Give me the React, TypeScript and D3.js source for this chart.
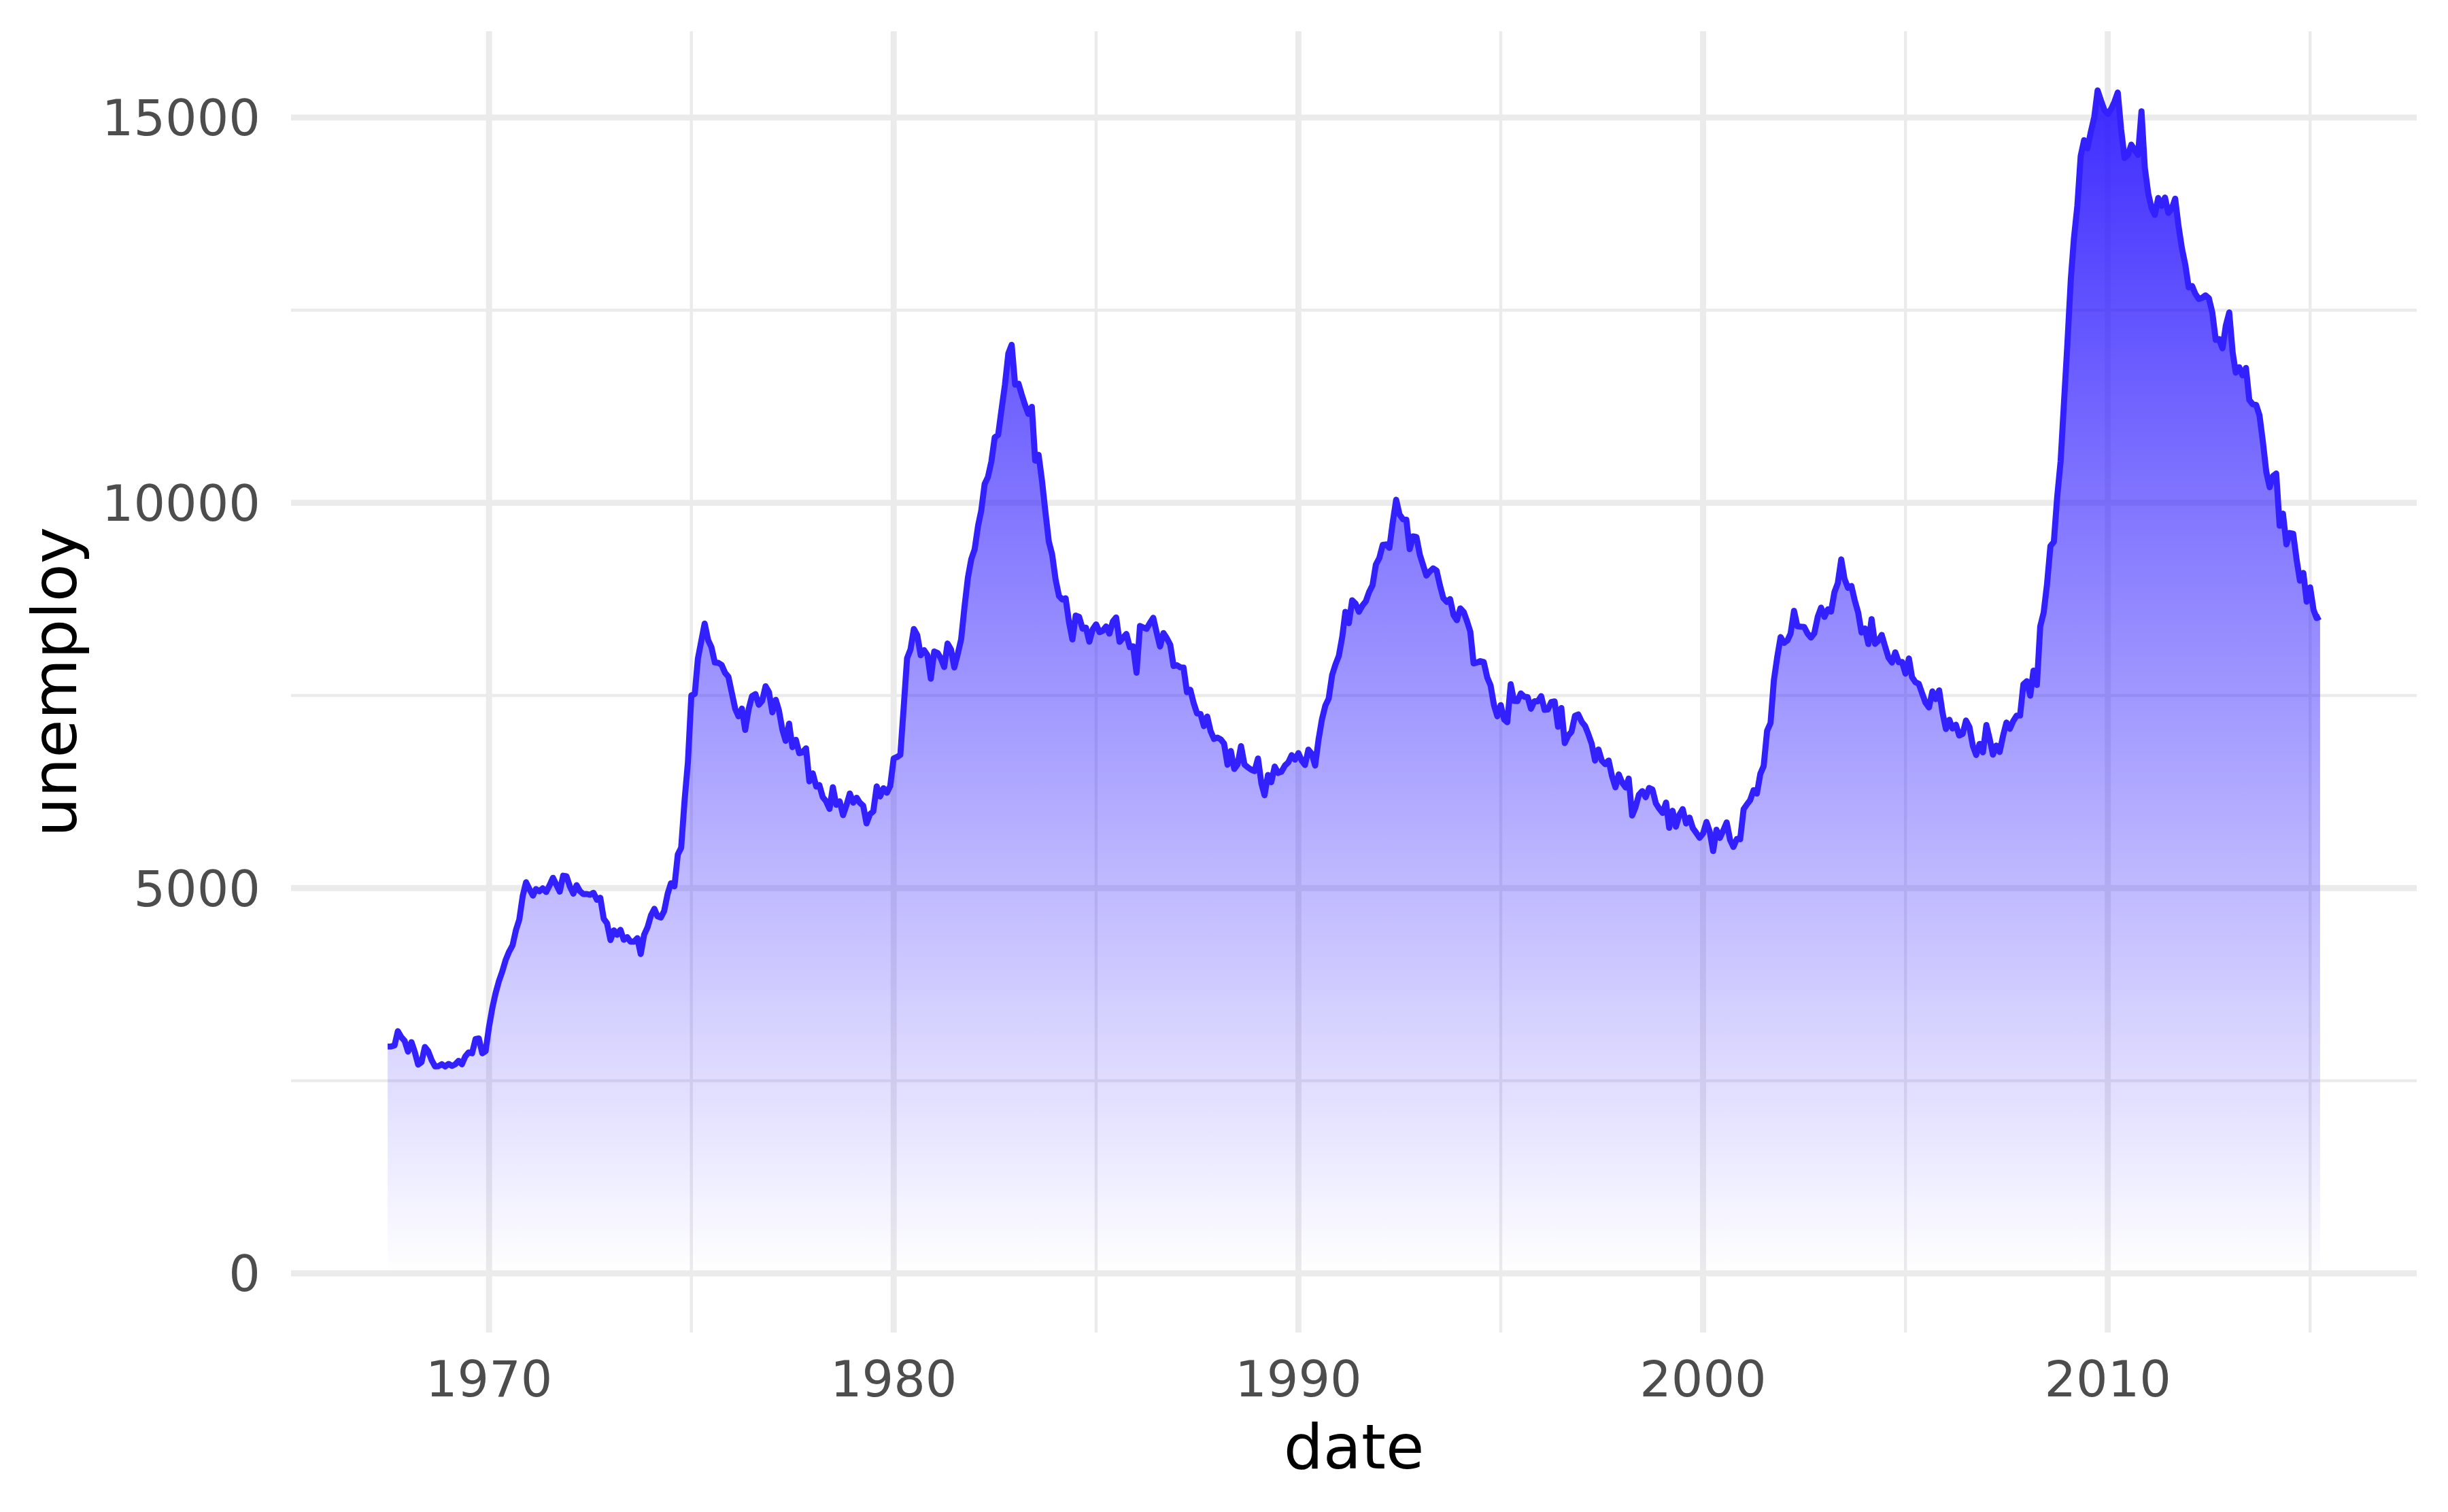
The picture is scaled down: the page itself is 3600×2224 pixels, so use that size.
import React from "react";
import * as d3 from "d3";

// ggplot2 economics: monthly unemployment (thousands), from 1967-07 to 2015-04
const startYear = 1967;
const startMonth = 6; // July (0-based)
const unemploy: number[] = [
  2944, 2945, 2958, 3143, 3066, 3018,
  2878, 3001, 2877, 2709, 2740, 2938, 2883, 2768, 2686, 2689, 2715, 2685,
  2718, 2692, 2712, 2758, 2713, 2816, 2868, 2856, 3040, 3049, 2856, 2884,
  3201, 3453, 3635, 3797, 3919, 4071, 4175, 4256, 4456, 4591, 4898, 5076,
  4986, 4903, 4987, 4959, 4996, 4949, 5035, 5134, 5042, 4954, 5161, 5154,
  5019, 4928, 5038, 4959, 4922, 4923, 4913, 4939, 4849, 4875, 4602, 4543,
  4326, 4452, 4394, 4459, 4329, 4363, 4305, 4305, 4350, 4144, 4396, 4489,
  4644, 4731, 4634, 4618, 4705, 4927, 5063, 5022, 5437, 5523, 6140, 6636,
  7501, 7520, 7978, 8210, 8433, 8220, 8127, 7928, 7923, 7897, 7794, 7744,
  7534, 7326, 7230, 7330, 7053, 7322, 7490, 7518, 7380, 7430, 7620, 7545,
  7280, 7443, 7307, 7059, 6911, 7134, 6829, 6925, 6751, 6763, 6815, 6386,
  6489, 6318, 6337, 6180, 6127, 6028, 6309, 6080, 6125, 5947, 6077, 6228,
  6109, 6173, 6109, 6069, 5840, 5959, 5996, 6320, 6190, 6296, 6238, 6325,
  6683, 6702, 6729, 7358, 7984, 8098, 8363, 8281, 8021, 8088, 8023, 7718,
  8071, 8051, 7982, 7869, 8174, 8098, 7863, 8036, 8230, 8646, 9029, 9267,
  9397, 9705, 9895, 10244, 10335, 10538, 10849, 10881, 11217, 11529, 11938, 12051,
  11534, 11545, 11408, 11268, 11154, 11246, 10548, 10623, 10282, 9887, 9499, 9331,
  9008, 8791, 8746, 8762, 8456, 8226, 8537, 8519, 8367, 8381, 8198, 8358,
  8423, 8321, 8339, 8395, 8302, 8460, 8513, 8196, 8248, 8298, 8128, 8138,
  7795, 8402, 8383, 8364, 8439, 8508, 8319, 8135, 8310, 8243, 8159, 7883,
  7892, 7865, 7862, 7542, 7574, 7398, 7268, 7261, 7102, 7227, 7035, 6936,
  6953, 6929, 6876, 6601, 6779, 6546, 6605, 6843, 6604, 6568, 6537, 6518,
  6682, 6359, 6205, 6468, 6375, 6577, 6495, 6511, 6590, 6630, 6725, 6667,
  6752, 6651, 6598, 6797, 6742, 6590, 6922, 7188, 7368, 7459, 7764, 7901,
  8015, 8265, 8586, 8439, 8736, 8692, 8586, 8666, 8722, 8842, 8931, 9198,
  9283, 9454, 9460, 9415, 9744, 10040, 9850, 9787, 9781, 9398, 9565, 9557,
  9325, 9183, 9056, 9110, 9149, 9121, 8930, 8763, 8714, 8750, 8542, 8477,
  8630, 8583, 8470, 8331, 7915, 7927, 7946, 7933, 7734, 7632, 7375, 7230,
  7375, 7187, 7153, 7645, 7430, 7427, 7527, 7484, 7478, 7328, 7426, 7423,
  7491, 7313, 7318, 7415, 7423, 7095, 7337, 6882, 6979, 7031, 7236, 7253,
  7158, 7102, 7000, 6873, 6655, 6799, 6655, 6608, 6656, 6454, 6308, 6476,
  6368, 6306, 6422, 5941, 6047, 6212, 6259, 6179, 6300, 6280, 6100, 6032,
  5976, 6111, 5783, 6004, 5796, 5951, 6025, 5838, 5915, 5778, 5716, 5653,
  5708, 5858, 5733, 5481, 5758, 5651, 5747, 5853, 5625, 5534, 5639, 5634,
  6023, 6089, 6141, 6271, 6226, 6484, 6583, 7042, 7142, 7694, 8003, 8258,
  8182, 8215, 8304, 8599, 8399, 8393, 8390, 8304, 8251, 8307, 8520, 8640,
  8520, 8618, 8588, 8842, 8957, 9266, 9011, 8896, 8921, 8732, 8576, 8317,
  8370, 8167, 8491, 8170, 8212, 8286, 8136, 7990, 7927, 8061, 7932, 7934,
  7784, 7980, 7737, 7672, 7651, 7524, 7406, 7345, 7553, 7453, 7566, 7279,
  7064, 7184, 7072, 7120, 6980, 7001, 7175, 7091, 6847, 6727, 6872, 6762,
  7116, 6927, 6731, 6850, 6766, 6979, 7149, 7067, 7170, 7237, 7240, 7645,
  7685, 7497, 7822, 7637, 8395, 8575, 8937, 9438, 9494, 10074, 10538, 11286,
  12058, 12898, 13426, 13853, 14499, 14707, 14601, 14814, 15009, 15352, 15219, 15098,
  15046, 15113, 15202, 15325, 14849, 14474, 14512, 14648, 14579, 14516, 15081, 14348,
  14013, 13820, 13737, 13957, 13855, 13962, 13763, 13818, 13948, 13594, 13302, 13093,
  12797, 12813, 12713, 12646, 12660, 12692, 12656, 12471, 12115, 12124, 12005, 12298,
  12471, 11950, 11689, 11760, 11654, 11751, 11335, 11279, 11270, 11136, 10787, 10404,
  10202, 10349, 10380, 9702, 9859, 9460, 9608, 9599, 9262, 8990, 9090, 8717,
  8903, 8610, 8504, 8526,
];

const yMajorTicks = [0, 5000, 10000, 15000];
const yMinorTicks = [2500, 7500, 12500];
const xMajorYears = [1970, 1980, 1990, 2000, 2010];
const xMinorYears = [1965, 1975, 1985, 1995, 2005, 2015];

const W = 3600;
const H = 2224;
const panel = { left: 428, right: 3554, top: 46, bottom: 1960 };

type Pt = { date: Date; value: number };

export default function App() {
  const data: Pt[] = unemploy.map((v, i) => ({
    date: new Date(Date.UTC(startYear, startMonth + i, 1)),
    value: v,
  }));

  const [d0, d1] = d3.extent(data, (d) => d.date.getTime()) as [number, number];
  const xPad = (d1 - d0) * 0.05;
  const x = d3
    .scaleUtc()
    .domain([new Date(d0 - xPad), new Date(d1 + xPad)])
    .range([panel.left, panel.right]);

  const yMax = d3.max(data, (d) => d.value) as number;
  const yPad = yMax * 0.05;
  const y = d3
    .scaleLinear()
    .domain([-yPad, yMax + yPad])
    .range([panel.bottom, panel.top]);

  const area = d3
    .area<Pt>()
    .x((d) => x(d.date))
    .y0(y(0))
    .y1((d) => y(d.value));
  const line = d3
    .line<Pt>()
    .x((d) => x(d.date))
    .y((d) => y(d.value));

  const yearX = (yr: number) => x(new Date(Date.UTC(yr, 0, 1)));
  const gridColor = "#ebebeb";
  const majorW = 8.9;
  const minorW = 4.45;
  const font = "'DejaVu Sans', sans-serif";

  return (
    <svg
      width={W}
      height={H}
      viewBox={`0 0 ${W} ${H}`}
      style={{ position: "absolute", left: 0, top: 0, background: "#fff" }}
    >
      <defs>
        <linearGradient
          id="fillGrad"
          gradientUnits="userSpaceOnUse"
          x1={0}
          x2={0}
          y1={y(yMax)}
          y2={y(0)}
        >
          <stop offset="0" stopColor="#2814ff" stopOpacity={0.9} />
          <stop offset="1" stopColor="#2814ff" stopOpacity={0} />
        </linearGradient>
        <clipPath id="panelClip">
          <rect
            x={panel.left}
            y={panel.top}
            width={panel.right - panel.left}
            height={panel.bottom - panel.top}
          />
        </clipPath>
      </defs>

      <g clipPath="url(#panelClip)">
        {yMinorTicks.map((t) => (
          <line
            key={"ym" + t}
            x1={panel.left}
            x2={panel.right}
            y1={y(t)}
            y2={y(t)}
            stroke={gridColor}
            strokeWidth={minorW}
          />
        ))}
        {xMinorYears.map((yr) => (
          <line
            key={"xm" + yr}
            x1={yearX(yr)}
            x2={yearX(yr)}
            y1={panel.top}
            y2={panel.bottom}
            stroke={gridColor}
            strokeWidth={minorW}
          />
        ))}
        {yMajorTicks.map((t) => (
          <line
            key={"yM" + t}
            x1={panel.left}
            x2={panel.right}
            y1={y(t)}
            y2={y(t)}
            stroke={gridColor}
            strokeWidth={majorW}
          />
        ))}
        {xMajorYears.map((yr) => (
          <line
            key={"xM" + yr}
            x1={yearX(yr)}
            x2={yearX(yr)}
            y1={panel.top}
            y2={panel.bottom}
            stroke={gridColor}
            strokeWidth={majorW}
          />
        ))}
        <path d={area(data) || ""} fill="url(#fillGrad)" stroke="none" />
        <path
          d={line(data) || ""}
          fill="none"
          stroke="#3320ff"
          strokeWidth={8.9}
          strokeLinejoin="round"
          strokeLinecap="butt"
        />
      </g>

      {yMajorTicks.map((t) => (
        <text
          key={"yl" + t}
          x={383}
          y={y(t)}
          dy="0.36em"
          textAnchor="end"
          fontFamily={font}
          fontSize={73.3}
          fill="#4d4d4d"
        >
          {t}
        </text>
      ))}
      {xMajorYears.map((yr) => (
        <text
          key={"xl" + yr}
          x={yearX(yr)}
          y={2054}
          textAnchor="middle"
          fontFamily={font}
          fontSize={73.3}
          fill="#4d4d4d"
        >
          {yr}
        </text>
      ))}
      <text
        x={(panel.left + panel.right) / 2}
        y={2160}
        textAnchor="middle"
        fontFamily={font}
        fontSize={91.7}
        fill="#000"
      >
        date
      </text>
      <text
        transform={`translate(112, ${(panel.top + panel.bottom) / 2}) rotate(-90)`}
        textAnchor="middle"
        fontFamily={font}
        fontSize={91.7}
        fill="#000"
      >
        unemploy
      </text>
    </svg>
  );
}
